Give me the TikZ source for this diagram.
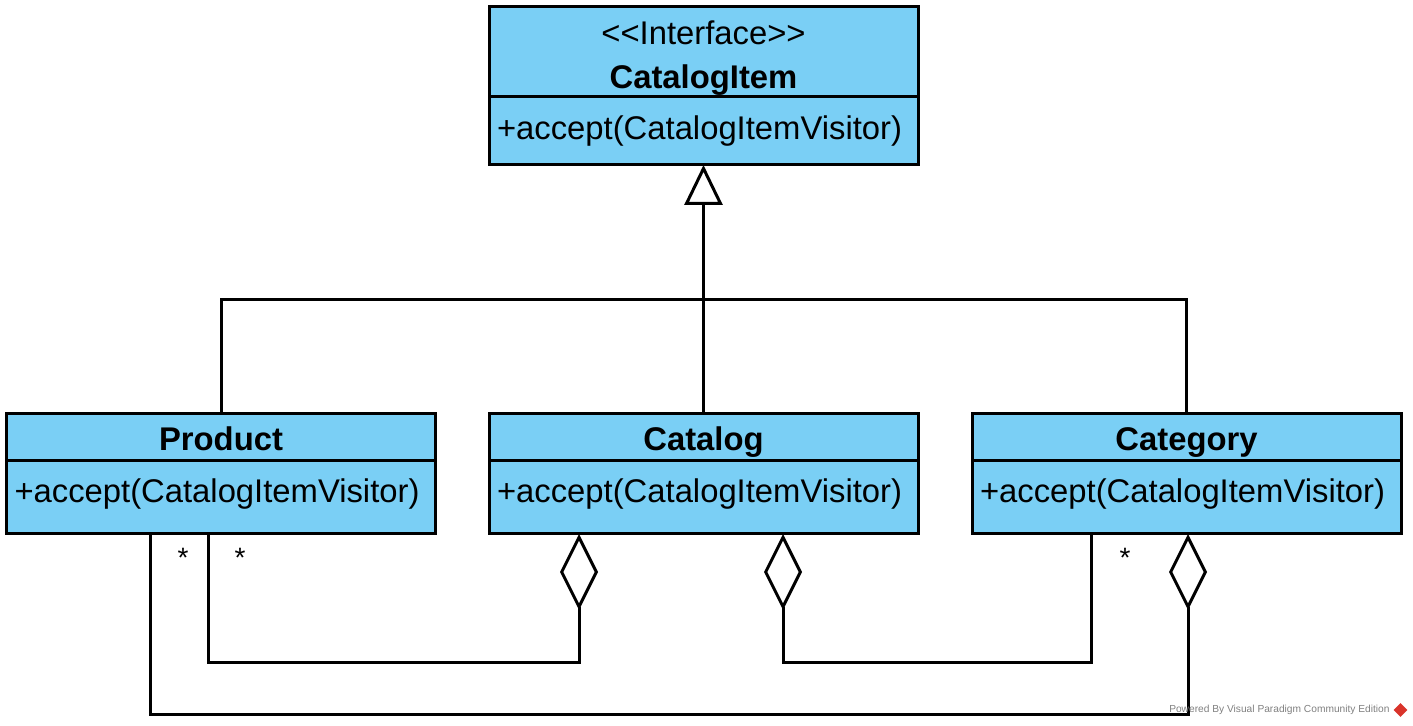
\documentclass[tikz,border=0pt]{standalone}
\usepackage{fontspec}
\setmainfont{Liberation Sans}
\usetikzlibrary{positioning,arrows.meta,shapes.geometric}
\definecolor{classfill}{RGB}{122,207,245}
\definecolor{vpred}{HTML}{D9342B}

\begin{document}
\begin{tikzpicture}[x=0.5pt, y=-0.5pt,
  head/.style={rectangle, draw=black, fill=classfill, line width=1.5pt, outer sep=0pt,
               minimum width=214.5pt, minimum height=23.5pt, align=center,
               font=\fontsize{16.4}{22}\selectfont},
  title/.style={head, inner ysep=0pt, text height=14pt, text depth=1pt},
  body/.style={rectangle, draw=black, fill=classfill, line width=1.5pt, outer sep=0pt,
               minimum height=36.5pt, text width=206.5pt, inner xsep=4pt, align=left,
               text height=12pt, text depth=7pt, font=\fontsize{16.4}{22}\selectfont},
  link/.style={line width=1.5pt},
  inherit/.style={link, -{Triangle[open, length=20pt, width=19pt, fill=white]}},
  agg/.style={link, {Diamond[open, length=38pt, width=19pt, fill=white]}-},
  mult/.style={font=\fontsize{14}{16}\selectfont, inner sep=0pt},
]
  \useasboundingbox (0,0) rectangle (1413,726);

  % interface
  \node[head, minimum height=45pt, inner ysep=0pt] (ifaceH) at (703.5,52)
    {\rule{0pt}{17.5pt}<{}<Interface>{}>\\\textbf{CatalogItem}};
  \node[body, minimum height=34pt, text depth=3pt, below=0pt of ifaceH] (ifaceB) {+accept(CatalogItemVisitor)};

  % classes
  \node[title] (productH) at (221,437.5) {\textbf{Product}};
  \node[body, below=0pt of productH] (productB) {+accept(CatalogItemVisitor)};
  \node[title] (catalogH) at (703.5,437.5) {\textbf{Catalog}};
  \node[body, below=0pt of catalogH] (catalogB) {+accept(CatalogItemVisitor)};
  \node[title] (categoryH) at (1186.5,437.5) {\textbf{Category}};
  \node[body, below=0pt of categoryH] (categoryB) {+accept(CatalogItemVisitor)};

  % realization
  \coordinate (bus) at (703.5,300);
  \draw[link] (productH.north) |- (bus) -| (categoryH.north);
  \draw[inherit] (catalogH.north) -- (ifaceB.south);

  % aggregations
  \coordinate (aggA) at (208,662);
  \coordinate (aggB) at (1091,662);
  \coordinate (aggC) at (150,714);
  \draw[agg] ([xshift=-62.25pt]catalogB.south) |- (aggA) -- (aggA |- productB.south);
  \draw[agg] ([xshift=39.75pt]catalogB.south) |- (aggB) -- (aggB |- categoryB.south);
  \draw[agg] ([xshift=0.75pt]categoryB.south) |- (aggC) -- (aggC |- productB.south);

  \node[mult] (multA) at (240,558) {*};
  \node[mult] (multB) at (1125,558) {*};
  \node[mult] (multC) at (183,558) {*};

  % footer
  \node[font=\fontsize{5.1}{6}\selectfont, text=gray, anchor=east, inner sep=0pt] (powered) at (1390,710) {Powered By Visual Paradigm Community Edition};
  \node[diamond, fill=vpred, minimum size=7pt, inner sep=0pt, right=1.5pt of powered] (vplogo) {};
\end{tikzpicture}
\end{document}
